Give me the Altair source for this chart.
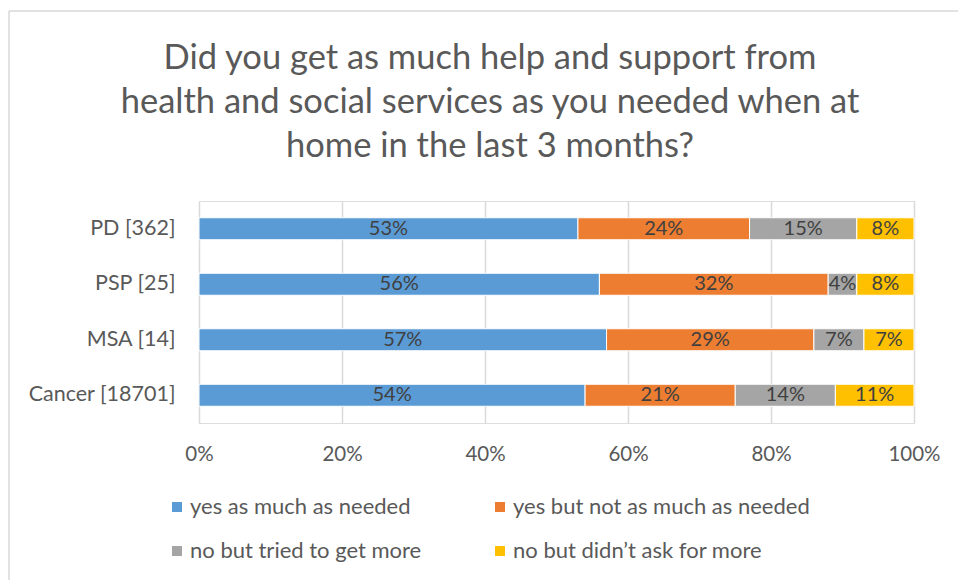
import altair as alt
import pandas as pd

categories = ["PD [362]", "PSP [25]", "MSA [14]", "Cancer [18701]"]
series = ["yes as much as needed", "yes but not as much as needed",
          "no but tried to get more", "no but didn\u2019t ask for more"]
colors = ["#5B9BD5", "#ED7D31", "#A5A5A5", "#FFC000"]
yes_much = [53, 56, 57, 54]
yes_not_much = [24, 32, 29, 21]
no_tried = [15, 4, 7, 14]
no_didnt_ask = [8, 8, 7, 11]
title_lines = ["Did you get as much help and support from",
               "health and social services as you needed when at",
               "home in the last 3 months?"]
x_ticks = [0, 0.2, 0.4, 0.6, 0.8, 1.0]

rows = []
for si, (s, vals) in enumerate(zip(series, [yes_much, yes_not_much, no_tried, no_didnt_ask])):
    for c, v in zip(categories, vals):
        rows.append({"category": c, "series": s, "value": v / 100, "order": si})
df = pd.DataFrame(rows)

FONT = "Lato"
TXT = "#595959"

base = alt.Chart(df).transform_stack(
    stack="value", groupby=["category"], as_=["x0", "x1"],
    sort=[alt.SortField("order", order="ascending")]
).transform_calculate(mid="(datum.x0 + datum.x1) / 2")

ysc = alt.Y("category:N", sort=categories, title=None,
            scale=alt.Scale(paddingInner=0, paddingOuter=0),
            axis=alt.Axis(ticks=False, domain=False, labelFont=FONT, labelFontSize=21.5,
                          labelColor=TXT, labelPadding=24))

bars = base.mark_bar(size=22, stroke="white", strokeWidth=1).encode(
    x=alt.X("x0:Q", title=None,
            scale=alt.Scale(domain=[0, 1], nice=False),
            axis=alt.Axis(format=".0%", values=x_ticks, ticks=False, tickSize=0, domain=False,
                          grid=True, gridColor="#D9D9D9", gridWidth=1.5, labelFlush=False,
                          labelFont=FONT, labelFontSize=20.5, labelColor=TXT, labelPadding=21)),
    x2="x1:Q",
    y=ysc,
    color=alt.Color("series:N", scale=alt.Scale(domain=series, range=colors),
                    legend=alt.Legend(title=None, orient="none", legendX=-33, legendY=295,
                                      columns=2, direction="horizontal",
                                      columnPadding=67, rowPadding=22,
                                      symbolType="square", symbolSize=100, symbolStrokeWidth=0,
                                      labelFont=FONT, labelFontSize=22, labelColor=TXT,
                                      labelOffset=2, labelLimit=400)),
    order=alt.Order("order:Q"),
)

labels = base.mark_text(font=FONT, fontSize=20, color="#404040").encode(
    x="mid:Q",
    y=alt.Y("category:N", sort=categories),
    text=alt.Text("value:Q", format=".0%"),
)

one = pd.DataFrame({"k": [0]})
title = alt.Chart(one).mark_text(font=FONT, fontSize=34.5, color=TXT, lineHeight=44,
                                 align="center", baseline="alphabetic").encode(
    x=alt.value(291), y=alt.value(-132), text=alt.value(title_lines))

border_left = alt.Chart(one).mark_rule(color="#D9D9D9", strokeWidth=1.5).encode(
    x=alt.value(-190), y=alt.value(-190), y2=alt.value(379))
border_top = alt.Chart(one).mark_rule(color="#D9D9D9", strokeWidth=1.5).encode(
    x=alt.value(-190), x2=alt.value(759), y=alt.value(-190))

chart = alt.layer(border_left, border_top, title, bars, labels).properties(
    width=715, height=222,
    autosize=alt.AutoSizeParams(type="none"),
    padding={"left": 199, "top": 201, "right": 44, "bottom": 157},
).configure_view(stroke=None).configure(background="white")

chart.save("out.html", embed_options={"renderer": "svg", "actions": False})
